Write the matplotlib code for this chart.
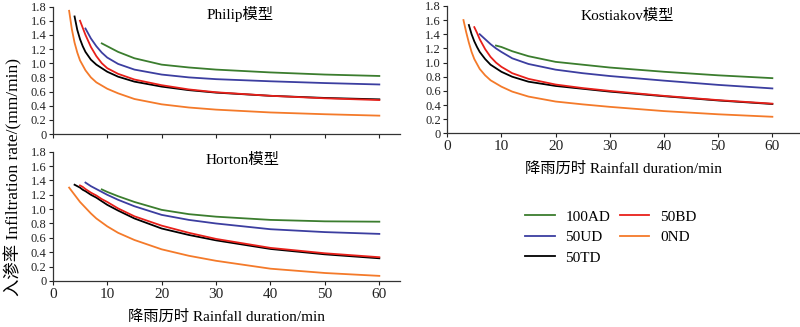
import numpy as np
import matplotlib
matplotlib.use("Agg")
import matplotlib.pyplot as plt

plt.rcParams['font.family'] = ['Liberation Serif', 'Noto Sans CJK SC', 'DejaVu Sans']
plt.rcParams['axes.unicode_minus'] = False

# time grids (min), one per treatment (start times differ)
t_100AD = [9, 10, 12, 15, 20, 25, 30, 40, 50, 60]
t_50UD = [6, 7, 8, 9, 10, 12, 15, 20, 25, 30, 40, 50, 60]
t_50TD = [4, 4.5, 5, 5.5, 6, 7, 8, 10, 12, 15, 20, 25, 30, 40, 50, 60]
t_50BD = [5, 5.5, 6, 7, 8, 9, 10, 12, 15, 20, 25, 30, 40, 50, 60]
t_0ND = [3, 3.5, 4, 4.5, 5, 6, 7, 8, 10, 12, 15, 20, 25, 30, 40, 50, 60]

# Philip model
philip_100AD = [1.28, 1.24, 1.16, 1.07, 0.98, 0.94, 0.91, 0.87, 0.84, 0.82]
philip_50UD = [1.49, 1.35, 1.24, 1.15, 1.08, 0.99, 0.91, 0.84, 0.80, 0.775, 0.745, 0.72, 0.70]
philip_50TD = [1.66, 1.47, 1.34, 1.24, 1.16, 1.05, 0.98, 0.88, 0.81, 0.74, 0.67, 0.62, 0.585, 0.54, 0.51, 0.49]
philip_50BD = [1.60, 1.50, 1.40, 1.23, 1.10, 1.00, 0.93, 0.85, 0.77, 0.69, 0.63, 0.59, 0.54, 0.505, 0.48]
philip_0ND = [1.74, 1.48, 1.29, 1.15, 1.04, 0.90, 0.80, 0.73, 0.64, 0.575, 0.495, 0.42, 0.375, 0.345, 0.305, 0.28, 0.26]

# Kostiakov model
kost_100AD = [1.24, 1.22, 1.16, 1.09, 1.01, 0.97, 0.93, 0.87, 0.82, 0.78]
kost_50UD = [1.40, 1.33, 1.26, 1.20, 1.15, 1.06, 0.98, 0.90, 0.85, 0.81, 0.745, 0.685, 0.635]
kost_50TD = [1.53, 1.40, 1.30, 1.22, 1.15, 1.05, 0.97, 0.87, 0.80, 0.73, 0.67, 0.63, 0.59, 0.525, 0.465, 0.415]
kost_50BD = [1.50, 1.42, 1.33, 1.19, 1.08, 1.00, 0.94, 0.85, 0.77, 0.69, 0.64, 0.60, 0.53, 0.47, 0.42]
kost_0ND = [1.60, 1.43, 1.28, 1.15, 1.05, 0.91, 0.82, 0.75, 0.66, 0.59, 0.52, 0.45, 0.41, 0.375, 0.315, 0.27, 0.235]

# Horton model
horton_100AD = [1.275, 1.24, 1.18, 1.10, 0.99, 0.93, 0.895, 0.85, 0.83, 0.825]
horton_50UD = [1.37, 1.32, 1.28, 1.24, 1.20, 1.13, 1.04, 0.92, 0.85, 0.80, 0.72, 0.68, 0.655]
horton_50TD = [1.34, 1.32, 1.30, 1.27, 1.25, 1.20, 1.16, 1.06, 0.98, 0.87, 0.73, 0.64, 0.565, 0.445, 0.37, 0.315]
horton_50BD = [1.33, 1.31, 1.28, 1.23, 1.19, 1.14, 1.10, 1.01, 0.90, 0.77, 0.67, 0.585, 0.46, 0.385, 0.33]
horton_0ND = [1.30, 1.25, 1.20, 1.15, 1.10, 1.02, 0.94, 0.87, 0.76, 0.67, 0.57, 0.44, 0.35, 0.28, 0.17, 0.11, 0.07]

labels = ["100AD", "50UD", "50TD", "50BD", "0ND"]
colors = ["#3b7d2e", "#3c3ea0", "#000000", "#e8201a", "#f47a2a"]
times = [t_100AD, t_50UD, t_50TD, t_50BD, t_0ND]

yticks = [0, 0.2, 0.4, 0.6, 0.8, 1.0, 1.2, 1.4, 1.6, 1.8]
yticklabels = ["0", "0.2", "0.4", "0.6", "0.8", "1.0", "1.2", "1.4", "1.6", "1.8"]
xticks = [0, 10, 20, 30, 40, 50, 60]

fs = 11
fig = plt.figure(figsize=(8, 3.27), dpi=100)

ax1 = fig.add_axes([0.066, 0.590, 0.434, 0.390])   # Philip
ax2 = fig.add_axes([0.559, 0.592, 0.441, 0.390])   # Kostiakov
ax3 = fig.add_axes([0.066, 0.141, 0.434, 0.395])   # Horton


def draw(ax, series, title, tx, ty, xlab, show_xticklabels):
    lines = []
    for t, v, c, lab in zip(times, series, colors, labels):
        ln, = ax.plot(t, v, color=c, lw=1.3, label=lab, solid_joinstyle='round')
        lines.append(ln)
    ax.set_ylim(0, 1.8)
    ax.set_yticks(yticks)
    ax.set_yticklabels(yticklabels)
    ax.set_xticks(xticks)
    if not show_xticklabels:
        ax.set_xticklabels([])
    for s in ["top", "right"]:
        ax.spines[s].set_visible(False)
    for s in ["left", "bottom"]:
        ax.spines[s].set_linewidth(0.9)
        ax.spines[s].set_color("#333333")
    ax.tick_params(direction="out", length=3, width=0.8, pad=2, colors="#222222")
    ax.tick_params(axis="x", labelsize=fs)
    ax.tick_params(axis="y", labelsize=9, pad=1.5)
    ax.text(tx, ty, title, transform=ax.transAxes, ha="center", va="center", fontsize=fs)
    if xlab:
        ax.set_xlabel("降雨历时 Rainfall duration/min", fontsize=fs, labelpad=6)
    return lines


lines = draw(ax1, [philip_100AD, philip_50UD, philip_50TD, philip_50BD, philip_0ND],
             "Philip模型", 0.54, 0.94, False, False)
ax1.set_xlim(0, 63.8)
draw(ax2, [kost_100AD, kost_50UD, kost_50TD, kost_50BD, kost_0ND],
     "Kostiakov模型", 0.51, 0.92, True, True)
ax2.set_xlim(0, 65.1)
draw(ax3, [horton_100AD, horton_50UD, horton_50TD, horton_50BD, horton_0ND],
     "Horton模型", 0.545, 0.94, True, True)
ax3.set_xlim(0, 63.8)

fig.text(0.016, 0.459, "入渗率 Infiltration rate/(mm/min)", rotation=90,
         ha="center", va="center", fontsize=12.5)

fig.legend(handles=lines, labels=labels, ncol=2, frameon=False, fontsize=fs,
           loc="upper left", bbox_to_anchor=(525 / 800, 1 - 210 / 327),
           borderpad=0, borderaxespad=0, handlelength=1.95, handletextpad=0.7,
           columnspacing=0.6, labelspacing=0.45)

fig.savefig("out.png", dpi=100)
